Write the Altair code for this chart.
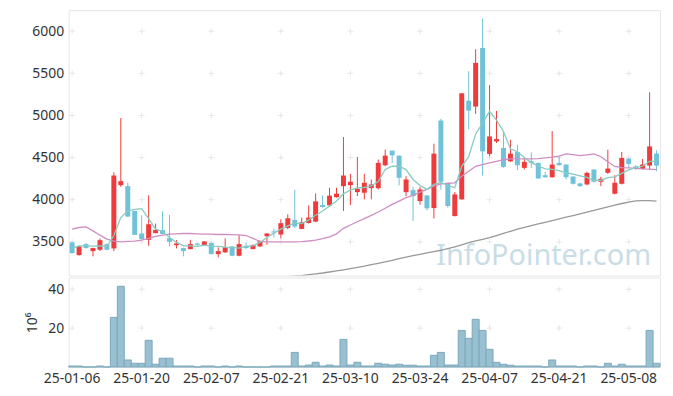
import altair as alt
import pandas as pd

dates = [
    "25-01-06", "25-01-07", "25-01-08", "25-01-09", "25-01-10",
    "25-01-13", "25-01-14", "25-01-15", "25-01-16", "25-01-17",
    "25-01-20", "25-01-21", "25-01-22", "25-01-23", "25-01-24",
    "25-01-31",
    "25-02-03", "25-02-04", "25-02-05", "25-02-06", "25-02-07",
    "25-02-10", "25-02-11", "25-02-12", "25-02-13", "25-02-14",
    "25-02-17", "25-02-18", "25-02-19", "25-02-20", "25-02-21",
    "25-02-24", "25-02-25", "25-02-26", "25-02-27", "25-02-28",
    "25-03-04", "25-03-05", "25-03-06", "25-03-07",
    "25-03-10", "25-03-11", "25-03-12", "25-03-13", "25-03-14",
    "25-03-17", "25-03-18", "25-03-19", "25-03-20", "25-03-21",
    "25-03-24", "25-03-25", "25-03-26", "25-03-27", "25-03-28",
    "25-03-31",
    "25-04-01", "25-04-02", "25-04-03", "25-04-04",
    "25-04-07", "25-04-08", "25-04-09", "25-04-10", "25-04-11",
    "25-04-14", "25-04-15", "25-04-16", "25-04-17", "25-04-18",
    "25-04-21", "25-04-22", "25-04-23", "25-04-24", "25-04-25",
    "25-04-28", "25-04-29", "25-04-30",
    "25-05-02", "25-05-07", "25-05-08", "25-05-09", "25-05-12",
    "25-05-13", "25-05-14",
]

opens = [3493, 3343, 3473, 3390, 3406, 3473, 3422, 4173, 4161, 3866,
         3599, 3524, 3603, 3638, 3544, 3461, 3426, 3414, 3480, 3461,
         3488, 3355, 3375, 3446, 3335, 3453, 3414, 3446, 3567, 3623,
         3587, 3665, 3760, 3653, 3724, 3740, 3937, 3933, 4031, 4161,
         4173, 4090, 4083, 4137, 4137, 4409, 4582, 4523, 4090, 4114,
         3984, 4051, 3901, 4940, 4201, 3807, 4004, 5176, 5105, 5801,
         4543, 4692, 4614, 4456, 4567, 4378, 4456, 4437, 4291, 4267,
         4437, 4417, 4275, 4193, 4181, 4358, 4213, 4319, 4071, 4189,
         4488, 4395, 4366, 4405, 4547]
highs = [3500, 3453, 3485, 3430, 3540, 3480, 4326, 4970, 4201, 3870,
         3815, 4051, 3717, 3862, 3819, 3520, 3430, 3524, 3490, 3510,
         3492, 3434, 3540, 3452, 3579, 3493, 3470, 3515, 3602, 3658,
         3768, 3827, 4118, 3788, 3933, 4075, 4051, 4142, 4142, 4744,
         4307, 4508, 4307, 4240, 4476, 4594, 4585, 4526, 4279, 4154,
         4154, 4053, 4665, 4960, 4203, 4090, 5268, 5526, 5786, 6148,
         5361, 5054, 4810, 4712, 4653, 4496, 4562, 4440, 4330, 4815,
         4508, 4420, 4278, 4200, 4331, 4362, 4272, 4594, 4291, 4567,
         4490, 4410, 4484, 5275, 4586]
lows = [3360, 3335, 3422, 3328, 3390, 3400, 3390, 4154, 3795, 3580,
        3528, 3453, 3600, 3590, 3446, 3422, 3328, 3410, 3455, 3455,
        3350, 3316, 3367, 3330, 3328, 3414, 3410, 3440, 3465, 3552,
        3540, 3650, 3662, 3650, 3717, 3732, 3906, 3918, 4024, 3866,
        3937, 4043, 4004, 4004, 4122, 4397, 4437, 4169, 4043, 3748,
        3941, 3874, 3776, 4118, 3906, 3800, 4000, 4838, 5019, 4287,
        4515, 4673, 4378, 4449, 4350, 4358, 4378, 4248, 4260, 4260,
        4405, 4240, 4181, 4155, 4173, 4205, 4161, 4307, 4063, 4181,
        4378, 4350, 4358, 4358, 4338]
closes = [3367, 3446, 3426, 3426, 3520, 3406, 4287, 4220, 3800, 3583,
          3532, 3709, 3642, 3594, 3500, 3481, 3390, 3473, 3465, 3505,
          3355, 3390, 3434, 3335, 3473, 3426, 3461, 3508, 3599, 3611,
          3721, 3780, 3682, 3732, 3788, 3980, 3913, 4048, 4071, 4287,
          4213, 4130, 4201, 4181, 4437, 4523, 4527, 4260, 4240, 4043,
          4122, 3898, 4547, 4213, 3925, 4063, 5263, 5058, 5624, 4574,
          4751, 4720, 4390, 4547, 4409, 4449, 4437, 4252, 4267, 4417,
          4409, 4267, 4189, 4161, 4319, 4213, 4248, 4370, 4201, 4496,
          4425, 4375, 4417, 4633, 4405]

volumes = [0.5, 0.5, 0, 0, 0.5, 0, 25.5, 41.5, 3.6, 1.9,
           1.9, 13.7, 1.4, 4.5, 4.5, 0.5, 0.5, 0.5, 0, 0.5,
           0.5, 0, 0.5, 0, 0.5, 0, 0, 0, 0, 0.5,
           0.5, 0.5, 7.5, 0.5, 1.0, 2.4, 0.5, 1.0, 0.5, 14.2,
           1.0, 2.4, 0.5, 0.5, 1.9, 1.4, 1.0, 1.4, 0.9, 0.9,
           0.5, 0.5, 6.0, 7.5, 1.0, 1.0, 18.8, 14.7, 24.5, 18.8,
           9.1, 2.4, 1.4, 0.9, 0.5, 0.5, 0.5, 0.5, 0, 3.6,
           0.5, 0.5, 0.5, 0, 0.5, 0.5, 0, 1.9, 0.5, 1.4,
           0.5, 0.5, 0.5, 18.8, 1.9]

ma5 = [3422, 3453, 3453, 3450, 3453, 3446, 3575, 3788, 3866, 3886,
       3894, 3776, 3650, 3623, 3552, 3493, 3453, 3453, 3446, 3460,
       3450, 3446, 3437, 3434, 3426, 3446, 3453, 3493, 3552, 3603,
       3650, 3689, 3721, 3717, 3760, 3815, 3866, 3925, 3984, 4070,
       4115, 4140, 4145, 4163, 4216, 4358, 4397, 4397, 4358, 4240,
       4169, 4122, 4181, 4204, 4169, 4142, 4397, 4510, 4780, 4910,
       5050, 4945, 4810, 4605, 4570, 4500, 4440, 4400, 4365, 4360,
       4345, 4320, 4303, 4284, 4264, 4231, 4229, 4261, 4271, 4312,
       4353, 4380, 4397, 4456, 4456]
ma20 = [3650, 3670, 3677, 3630, 3579, 3532, 3508, 3500, 3505, 3508,
        3520, 3540, 3564, 3579, 3591, 3595, 3599, 3599, 3595, 3591,
        3591, 3587, 3587, 3585, 3583, 3575, 3540, 3505, 3500, 3500,
        3500, 3500, 3500, 3502, 3510, 3520, 3537, 3560, 3595, 3660,
        3700, 3738, 3776, 3815, 3854, 3898, 3945, 3984, 4024, 4051,
        4090, 4122, 4161, 4189, 4193, 4201, 4279, 4338, 4397, 4417,
        4437, 4456, 4476, 4484, 4484, 4484, 4484, 4488, 4496, 4505,
        4518, 4543, 4535, 4523, 4533, 4543, 4510, 4450, 4395, 4382,
        4378, 4372, 4366, 4362, 4358]
ma120 = [None] * 28 + [
    3060, 3070, 3080, 3087, 3093, 3100, 3110, 3120, 3130, 3142,
    3155, 3168, 3182, 3196, 3212, 3230, 3245, 3262, 3280, 3300,
    3318, 3335, 3352, 3368, 3385, 3400, 3420, 3440, 3465, 3490,
    3510, 3530, 3550, 3575, 3600, 3625, 3650, 3672, 3692, 3712,
    3732, 3752, 3772, 3792, 3812, 3832, 3852, 3872, 3893, 3915,
    3935, 3955, 3972, 3985, 3990, 3988, 3982]

x_ticks = ["25-01-06", "25-01-20", "25-02-07", "25-02-21", "25-03-10",
           "25-03-24", "25-04-07", "25-04-21", "25-05-08"]
price_ticks = [3500, 4000, 4500, 5000, 5500, 6000]
vol_ticks = [20, 40]

RED = "#ef3b3b"
BLUE = "#6fc2d9"
FONT = "Noto Sans"

df = pd.DataFrame({
    "date": dates, "open": opens, "high": highs, "low": lows,
    "close": closes, "volume": volumes,
    "ma5": ma5, "ma20": ma20, "ma120": ma120,
})
df["dir"] = ["up" if c >= o else "down" for o, c in zip(opens, closes)]

W = 595
xscale = alt.Scale(domain=dates, paddingInner=0, paddingOuter=0)
pscale = alt.Scale(domain=[3100, 6250], nice=False, zero=False)
vscale = alt.Scale(domain=[0, 46], nice=False)
color = alt.Color("dir:N", scale=alt.Scale(domain=["up", "down"], range=[RED, BLUE]), legend=None)

yaxis_p = alt.Axis(values=price_ticks, title=None, labelPadding=5, format="d")
yaxis_v = alt.Axis(values=vol_ticks, title="10\u2076", titlePadding=8,
                   titleFontWeight="normal", titleFontSize=14, titleColor="#333333",
                   titleFont=FONT, labelPadding=5, format="d")
xaxis_v = alt.Axis(values=x_ticks, labelAngle=0, title=None, labelPadding=5)

x_p = alt.X("date:O", scale=xscale, axis=None)
x_v = alt.X("date:O", scale=xscale, axis=xaxis_v)

grid_p = pd.DataFrame([(d, v) for d in x_ticks for v in price_ticks], columns=["date", "v"])
grid_v = pd.DataFrame([(d, v) for d in x_ticks for v in vol_ticks], columns=["date", "v"])

base = alt.Chart(df)


def crosses(gdf, xenc, yscale, yaxis):
    g = alt.Chart(gdf)
    enc = dict(x=xenc, y=alt.Y("v:Q", scale=yscale, axis=yaxis))
    h = g.mark_tick(orient="horizontal", size=6, thickness=1, color="#dedede").encode(**enc)
    v = g.mark_tick(orient="vertical", size=6, thickness=1, color="#dedede").encode(**enc)
    return h + v


watermark = alt.Chart(pd.DataFrame({"t": ["InfoPointer.com"]})).mark_text(
    font=FONT, fontSize=29, color="#c9dde7", align="right", baseline="alphabetic"
).encode(text="t:N", x=alt.value(W - 9), y=alt.value(256))

wick = base.mark_rule(strokeWidth=1).encode(
    x=x_p,
    y=alt.Y("low:Q", scale=pscale, axis=yaxis_p),
    y2="high:Q",
    color=color,
)
body = base.mark_bar(size=5).encode(
    x=x_p, y=alt.Y("open:Q", scale=pscale, axis=yaxis_p), y2="close:Q", color=color
)
l120 = base.mark_line(color="#999999", strokeWidth=1.3, clip=True).encode(
    x=x_p, y=alt.Y("ma120:Q", scale=pscale, axis=yaxis_p))
l20 = base.mark_line(color="#cf8dc4", strokeWidth=1.3, clip=True).encode(
    x=x_p, y=alt.Y("ma20:Q", scale=pscale, axis=yaxis_p))
l5 = base.mark_line(color="#86ccc2", strokeWidth=1.3, clip=True).encode(
    x=x_p, y=alt.Y("ma5:Q", scale=pscale, axis=yaxis_p))

price = alt.layer(
    crosses(grid_p, x_p, pscale, yaxis_p), watermark, wick, body, l120, l20, l5
).properties(width=W, height=267)

vol = base.mark_bar(fill="#98c0d0", stroke="#7ba8bb", strokeWidth=1).encode(
    x=x_v,
    y=alt.Y("volume:Q", scale=vscale, axis=yaxis_v),
)
volume = alt.layer(crosses(grid_v, x_v, vscale, yaxis_v), vol).properties(width=W, height=90)

chart = alt.vconcat(price, volume, spacing=0).properties(
    padding={"left": 17, "top": 0, "right": 4, "bottom": 2}
).configure_view(stroke="#e6e6e6").configure_axis(
    domain=False, ticks=False, grid=False,
    labelFont=FONT, labelFontSize=14, labelColor="#333333",
).configure_concat(spacing=0)

chart.save("out.html", embed_options={"renderer": "svg", "actions": False})
